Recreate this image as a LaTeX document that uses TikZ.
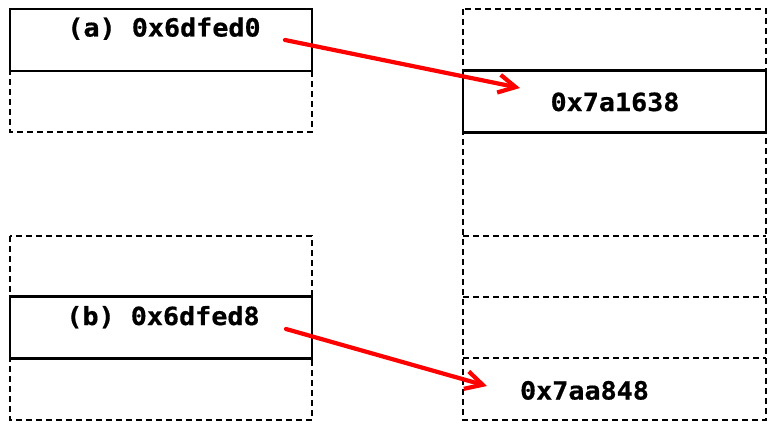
\documentclass[tikz,border=0pt]{standalone}
\usepackage{fontspec}
\newfontfamily\codefont{DejaVu Sans Mono}[FakeStretch=1.07, BoldFeatures={FakeBold=0.6}]
\usetikzlibrary{arrows.meta}

\tikzset{
  frame/.style={draw=black, line width=2.8pt, dash pattern=on 6pt off 4pt},
  cell/.style={draw=black, line width=2.8pt, fill=white, rectangle, inner sep=0pt,
    minimum width=302pt, minimum height=62pt},
  slot/.style={rectangle, inner sep=0pt, minimum width=303pt, minimum height=62pt},
  addr/.style={inner sep=0pt, anchor=base, font=\codefont\bfseries\fontsize{25}{30}\selectfont},
  ptr/.style={draw=red, line width=4.2pt, line cap=round,
    -{Straight Barb[length=17pt, width=18pt, line width=4.2pt]}}
}

\begin{document}
\begin{tikzpicture}[x=1pt, y=-1pt]
\useasboundingbox (0,0) rectangle (771,428);

% dashed memory frames
\draw[frame] (10,9) rectangle (312,132);
\draw[frame] (10,236) rectangle (312,420);
\draw[frame] (463,9) rectangle (766,420);
\draw[frame] (463,236) -- (766,236);
\draw[frame] (463,297) -- (766,297);
\draw[frame] (463,358) -- (766,358);

% occupied cells
\node[cell] (ca) at (161,40) {};
\node[cell] (cb) at (161,327.5) {};
\node[cell, minimum width=303pt] (ta) at (614.5,101.5) {};
\node[slot] (tb) at (614.5,389) {};

% addresses (placed on their baselines)
\node[addr] (la) at (164,36.5) {(a) 0x6dfed0};
\node[addr] (lb) at (163,325) {(b) 0x6dfed8};
\node[addr] (va) at (615,111) {0x7a1638};
\node[addr] (vb) at (584.5,399.5) {0x7aa848};

% pointers
\coordinate (sa) at (285,40);
\coordinate (ea) at (520,88);
\coordinate (sb) at (286,329);
\coordinate (eb) at (487,386);
\draw[ptr] (sa) -- (ea);
\draw[ptr] (sb) -- (eb);
\end{tikzpicture}
\end{document}
